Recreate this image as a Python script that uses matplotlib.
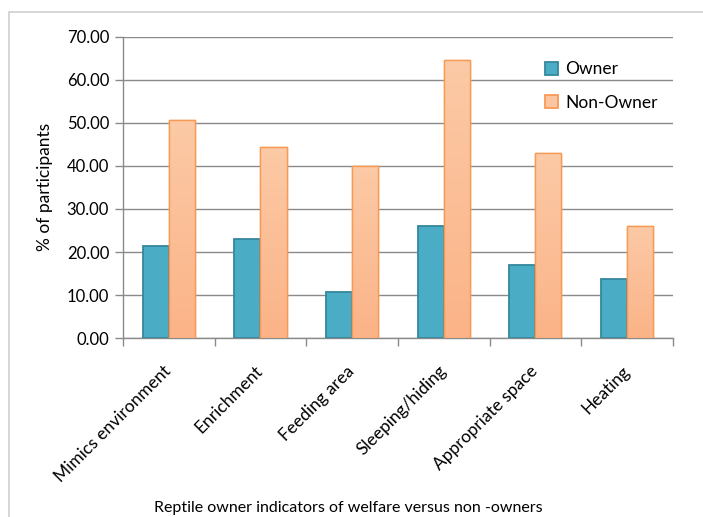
import numpy as np
import matplotlib.pyplot as plt
from matplotlib.patches import Rectangle
from matplotlib.colors import LinearSegmentedColormap

categories = ["Mimics environment", "Enrichment", "Feeding area",
              "Sleeping/hiding", "Appropriate space", "Heating"]
owner = [21.5, 23.1, 10.8, 26.1, 16.9, 13.8]
non_owner = [50.7, 44.5, 40.0, 64.6, 43.1, 26.1]
y_ticks = [0, 10, 20, 30, 40, 50, 60, 70]

plt.rcParams['font.family'] = ['Lato', 'DejaVu Sans']

fig = plt.figure(figsize=(7.03, 5.17), dpi=100)
ax = fig.add_axes([0.175, 0.346, 0.782, 0.583])

# chart area border
fig.patches.append(Rectangle((9 / 703, -0.1), 1.2, 1 - 12 / 517 + 0.1, transform=fig.transFigure,
                             fill=False, edgecolor='#d0d0d0', lw=1.2, zorder=0))

x = np.arange(len(categories))
w = 0.285
b1 = ax.bar(x - w / 2, owner, w, color='#4bacc6', edgecolor='#35879d', lw=1.3, zorder=3, label='Owner')
b2 = ax.bar(x + w / 2, non_owner, w, color='#fbbf98', edgecolor='#f79a55', lw=1.0, zorder=3, label='Non-Owner')

# gradient on non-owner bars
cmap = LinearSegmentedColormap.from_list('peach', ['#fbb387', '#fccaa6'])
grad = np.linspace(0, 1, 256).reshape(-1, 1)
for bar in b2:
    bx, by = bar.get_x(), bar.get_y()
    bw, bh = bar.get_width(), bar.get_height()
    im = ax.imshow(grad, cmap=cmap, aspect='auto', origin='lower',
                   extent=[bx, bx + bw, by, by + bh], zorder=3.5)
    im.set_clip_path(bar)
    ax.add_patch(Rectangle((bx, by), bw, bh, fill=False, edgecolor='#f79a55', lw=1.0, zorder=4))

ax.set_xlim(-0.5, len(categories) - 0.5)
ax.set_ylim(0, 70)
ax.set_yticks(y_ticks)
ax.set_yticklabels([f"{v:.2f}" for v in y_ticks], fontsize=12)
ax.yaxis.grid(True, color='#8a8a8a', lw=1.0, zorder=0)
ax.set_axisbelow(True)

ax.set_xticks(x)
ax.set_xticklabels(categories, fontsize=12.5, rotation=45, ha='right', va='center', rotation_mode='anchor')
ax.tick_params(axis='x', which='major', length=0, pad=22)
ax.set_xticks(np.arange(-0.5, len(categories)), minor=True)
ax.tick_params(axis='x', which='minor', length=6, color='#8a8a8a', width=1)
ax.tick_params(axis='y', length=6, color='#8a8a8a', width=1, pad=4)

for s in ['top', 'right']:
    ax.spines[s].set_visible(False)
for s in ['left', 'bottom']:
    ax.spines[s].set_color('#8a8a8a')
    ax.spines[s].set_linewidth(1)

ax.set_ylabel("% of participants", fontsize=12.5, labelpad=10)
fig.text(348 / 703, 1 - 508 / 517, "Reptile owner indicators of welfare versus non -owners",
         fontsize=11.5, ha='center', va='center')

leg = ax.legend(loc='upper left', bbox_to_anchor=(0.74, 0.97), frameon=False, fontsize=12.5,
                handlelength=0.75, handleheight=0.75, handletextpad=0.4, labelspacing=1.0)
for h in leg.legend_handles:
    h.set_linewidth(1.3)
leg.legend_handles[1].set_facecolor('#fcc4a0')

fig.savefig('out.png', dpi=100)
